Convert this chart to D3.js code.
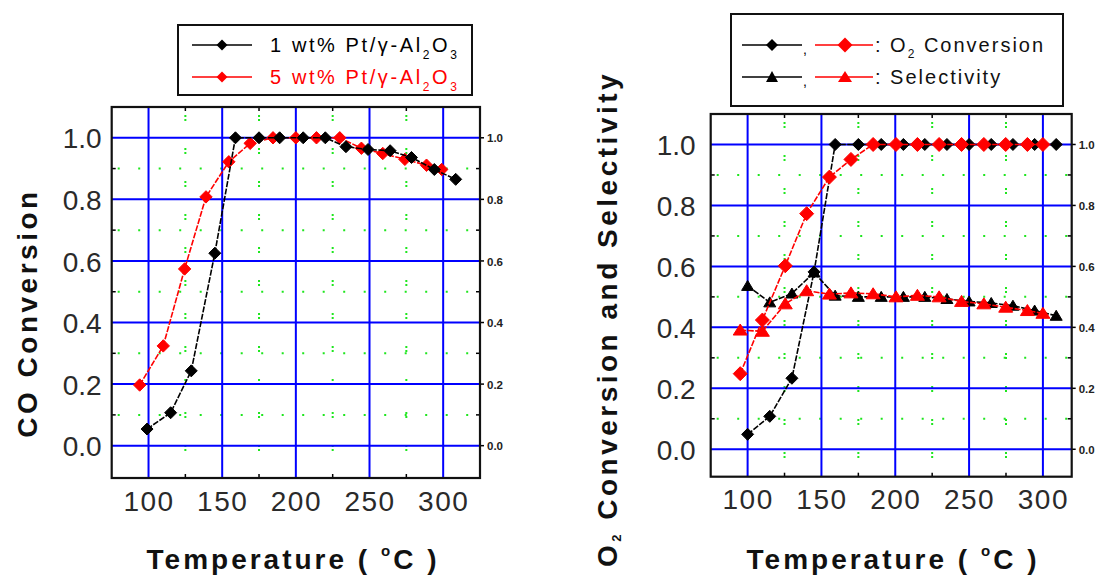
<!DOCTYPE html>
<html><head><meta charset="utf-8">
<script src="https://cdn.jsdelivr.net/npm/d3@7"></script>
<style>body{margin:0;background:#fff}svg{display:block}</style>
</head><body>
<svg id="c" width="1104" height="575"></svg>
<script>
// ---------- data ----------
const xTicks = [100, 150, 200, 250, 300];
const yTicks = [0, 0.2, 0.4, 0.6, 0.8, 1.0];
const xMinor = [125, 175, 225, 275];
const yMinor = [0.1, 0.3, 0.5, 0.7, 0.9];

// left panel: CO conversion
const pt1Temp = [99, 115, 129, 145, 159, 175, 189, 205, 220, 234, 249, 264, 278.5, 294, 308.5];
const pt1CO   = [0.054, 0.107, 0.243, 0.625, 1.0, 1.0, 1.0, 1.0, 1.0, 0.971, 0.962, 0.958, 0.936, 0.897, 0.865];
const pt5Temp = [94, 110, 124.5, 139, 154.5, 169, 184.5, 200, 214, 229.8, 244.5, 259, 274, 288.7, 299];
const pt5CO   = [0.197, 0.324, 0.574, 0.808, 0.922, 0.982, 1.0, 1.0, 1.0, 1.0, 0.966, 0.949, 0.93, 0.911, 0.897];

// right panel: O2 conversion and selectivity
const blkTemp = [100, 115, 130, 145, 159.3, 175, 190.5, 205.5, 220, 235, 250, 265, 279.7, 294.4, 309];
const blkO2   = [0.049, 0.108, 0.233, 0.582, 1.0, 1.0, 1.0, 1.0, 1.0, 1.0, 1.0, 1.0, 1.0, 1.0, 1.0];
const blkSel  = [0.536, 0.482, 0.511, 0.58, 0.504, 0.50, 0.50, 0.50, 0.50, 0.493, 0.485, 0.48, 0.471, 0.455, 0.438];
const redTemp = [95, 110, 125.5, 140, 155.4, 170, 185, 200.5, 215, 229.7, 244.9, 260, 274.8, 289.5, 300];
const redO2   = [0.248, 0.424, 0.602, 0.773, 0.893, 0.951, 1.0, 1.0, 1.0, 1.0, 1.0, 1.0, 1.0, 1.0, 1.0];
const redSel  = [0.391, 0.387, 0.477, 0.52, 0.509, 0.513, 0.51, 0.50, 0.505, 0.50, 0.485, 0.477, 0.466, 0.455, 0.446];

// ---------- drawing ----------
const svg = d3.select("#c");
const FONT = "'Liberation Sans', Arial, sans-serif";

const diamond = r => `M0,${-r}L${r},0L0,${r}L${-r},0Z`;
const triangle = (w, h) => `M0,${-h*0.55}L${w/2},${h*0.45}L${-w/2},${h*0.45}Z`;

function panel(cfg) {
  const x = d3.scaleLinear().domain(cfg.xDom).range([cfg.x0, cfg.x1]);
  const y = d3.scaleLinear().domain(cfg.yDom).range([cfg.y1, cfg.y0]);
  const g = svg.append("g");

  // green dotted minor grid
  g.selectAll(".mh").data(yMinor).join("line")
    .attr("x1", cfg.x0 + 6).attr("x2", cfg.x1).attr("y1", d => y(d)).attr("y2", d => y(d))
    .attr("stroke", "#1ee61e").attr("stroke-width", 2).attr("stroke-dasharray", "2,18.5");
  g.selectAll(".mv").data(xMinor).join("line")
    .attr("y1", cfg.y0 + 8).attr("y2", cfg.y1).attr("x1", d => x(d)).attr("x2", d => x(d))
    .attr("stroke", "#1ee61e").attr("stroke-width", 2).attr("stroke-dasharray", "2,2,2,27");

  // blue major grid
  g.selectAll(".gh").data(yTicks).join("line")
    .attr("x1", cfg.x0).attr("x2", cfg.x1).attr("y1", d => y(d)).attr("y2", d => y(d))
    .attr("stroke", "#0000ff").attr("stroke-width", 2);
  g.selectAll(".gv").data(xTicks).join("line")
    .attr("y1", cfg.y0).attr("y2", cfg.y1).attr("x1", d => x(d)).attr("x2", d => x(d))
    .attr("stroke", "#0000ff").attr("stroke-width", 2);

  // inner minor ticks
  yMinor.forEach(v => {
    g.append("line").attr("x1", cfg.x0).attr("x2", cfg.x0 + 4).attr("y1", y(v)).attr("y2", y(v)).attr("stroke", "#000").attr("stroke-width", 1.5);
    g.append("line").attr("x1", cfg.x1).attr("x2", cfg.x1 - 4).attr("y1", y(v)).attr("y2", y(v)).attr("stroke", "#000").attr("stroke-width", 1.5);
  });
  xMinor.forEach(v => {
    g.append("line").attr("y1", cfg.y1).attr("y2", cfg.y1 - 4).attr("x1", x(v)).attr("x2", x(v)).attr("stroke", "#000").attr("stroke-width", 1.5);
    g.append("line").attr("y1", cfg.y0).attr("y2", cfg.y0 + 4).attr("x1", x(v)).attr("x2", x(v)).attr("stroke", "#000").attr("stroke-width", 1.5);
  });
  yTicks.forEach(v => {
    g.append("line").attr("x1", cfg.x1).attr("x2", cfg.x1 + 4).attr("y1", y(v)).attr("y2", y(v)).attr("stroke", "#000").attr("stroke-width", 1.5);
  });

  // frame
  g.append("rect").attr("x", cfg.x0).attr("y", cfg.y0)
    .attr("width", cfg.x1 - cfg.x0).attr("height", cfg.y1 - cfg.y0)
    .attr("fill", "none").attr("stroke", "#111").attr("stroke-width", 2.2);

  // axes (labels)
  const ax = g.append("g").attr("transform", `translate(${cfg.x0 - cfg.yPad},0)`)
    .call(d3.axisLeft(y).tickValues(yTicks).tickFormat(d3.format(".1f")).tickSize(0).tickPadding(0));
  const bx = g.append("g").attr("transform", `translate(0,${cfg.y1 + 6})`)
    .call(d3.axisBottom(x).tickValues(xTicks).tickFormat(d3.format("d")).tickSize(0).tickPadding(0));
  const rx = g.append("g").attr("transform", `translate(${cfg.x1 + 7},0)`)
    .call(d3.axisRight(y).tickValues(yTicks).tickFormat(d3.format(".1f")).tickSize(0).tickPadding(0));
  [ax, bx, rx].forEach(a => a.select(".domain").remove());
  ax.selectAll("text").attr("font-family", FONT).attr("font-size", 28).attr("fill", "#2a2a2a").attr("dy", "0.36em");
  bx.selectAll("text").attr("font-family", FONT).attr("font-size", 28).attr("fill", "#2a2a2a")
    .attr("letter-spacing", 1.5).attr("dy", "0.95em");
  rx.selectAll("text").attr("font-family", FONT).attr("font-size", 11.5).attr("font-weight", "bold")
    .attr("fill", "#222").attr("dy", "0.36em");

  // x title
  const xt = g.append("text").attr("x", cfg.xtX).attr("y", 569).attr("text-anchor", "middle")
    .attr("font-family", FONT).attr("font-weight", "bold").attr("font-size", 28)
    .attr("letter-spacing", 3).attr("fill", "#111");
  xt.append("tspan").text("Temperature  ( ");
  xt.append("tspan").text("o").attr("font-size", 15).attr("dy", -13);
  xt.append("tspan").text("C )").attr("dy", 13);

  cfg.x = x; cfg.y = y; cfg.g = g;
  return cfg;
}

function series(p, xs, ys, color, shape) {
  const pts = xs.map((t, i) => [p.x(t), p.y(ys[i])]);
  p.g.append("path").attr("d", d3.line()(pts)).attr("fill", "none")
    .attr("stroke", color).attr("stroke-width", 1.6).attr("stroke-dasharray", "6,1.5");
  p.g.selectAll(null).data(pts).join("path")
    .attr("transform", d => `translate(${d[0]},${d[1]})`)
    .attr("d", shape).attr("fill", color).attr("stroke", color).attr("stroke-width", 1)
    .attr("stroke-linejoin", "round");
}

// ---------- left panel ----------
const L = panel({x0: 111.7, x1: 480, y0: 107, y1: 478, xDom: [75, 325], yDom: [-0.105, 1.1], yPad: 10, xtX: 293});
series(L, pt5Temp, pt5CO, "#ff0000", diamond(6.2));
series(L, pt1Temp, pt1CO, "#000000", diamond(6));

svg.append("text").attr("transform", "translate(37,313) rotate(-90)").attr("text-anchor", "middle")
  .attr("font-family", FONT).attr("font-weight", "bold").attr("font-size", 28).attr("letter-spacing", 3.5)
  .attr("fill", "#111").text("CO Conversion");

// left legend
const lg = svg.append("g");
lg.append("rect").attr("x", 178).attr("y", 25).attr("width", 294).attr("height", 70)
  .attr("fill", "#fff").attr("stroke", "#111").attr("stroke-width", 2);
const legL = [
  {c: "#000", y: 45, label: "1 wt%"},
  {c: "#ff0000", y: 77, label: "5 wt%"}
];
legL.forEach(e => {
  lg.append("line").attr("x1", 192).attr("x2", 252).attr("y1", e.y).attr("y2", e.y).attr("stroke", e.c).attr("stroke-width", 1.6);
  lg.append("path").attr("transform", `translate(222,${e.y})`).attr("d", diamond(5.5)).attr("fill", e.c);
  const t = lg.append("text").attr("x", 270).attr("y", e.y + 7).attr("font-family", FONT)
    .attr("font-size", 20).attr("letter-spacing", 2.6).attr("fill", e.c);
  t.append("tspan").text(e.label + "  Pt/γ-Al");
  t.append("tspan").text("2").attr("font-size", 12).attr("dy", 7);
  t.append("tspan").text("O").attr("dy", -7);
  t.append("tspan").text("3").attr("font-size", 12).attr("dy", 7);
});

// ---------- right panel ----------
const R = panel({x0: 710.7, x1: 1071.7, y0: 114, y1: 476.7, xDom: [75, 319.5], yDom: [-0.09, 1.1], yPad: 15, xtX: 893});
series(R, blkTemp, blkO2, "#000000", diamond(6));
series(R, blkTemp, blkSel, "#000000", triangle(12, 10));
series(R, redTemp, redO2, "#ff0000", diamond(7));
series(R, redTemp, redSel, "#ff0000", triangle(14, 11));

const ryt = svg.append("text").attr("transform", "translate(617,319) rotate(-90)").attr("text-anchor", "middle")
  .attr("font-family", FONT).attr("font-weight", "bold").attr("font-size", 28).attr("letter-spacing", 3.5)
  .attr("fill", "#111");
ryt.append("tspan").text("O");
ryt.append("tspan").text("2").attr("font-size", 13).attr("dy", 4);
ryt.append("tspan").text("  Conversion  and  Selectivity").attr("dy", -4);

// right legend
const rg = svg.append("g");
rg.append("rect").attr("x", 731).attr("y", 14).attr("width", 332).attr("height", 92)
  .attr("fill", "#fff").attr("stroke", "#111").attr("stroke-width", 2);
const legR = [
  {y: 45, shape: "d", label: "O"},
  {y: 77, shape: "t", label: "Selectivity"}
];
legR.forEach(e => {
  [["#000", 742, 802, 772], ["#ff0000", 815, 873, 845]].forEach(([c, a, b, m]) => {
    rg.append("line").attr("x1", a).attr("x2", b).attr("y1", e.y).attr("y2", e.y).attr("stroke", c).attr("stroke-width", 1.6);
    rg.append("path").attr("transform", `translate(${m},${e.y})`)
      .attr("d", e.shape === "d" ? diamond(c === "#000" ? 6 : 7.5) : triangle(c === "#000" ? 12 : 14, 11)).attr("fill", c);
  });
  rg.append("text").attr("x", 803).attr("y", e.y + 9).attr("font-family", FONT).attr("font-size", 14).attr("fill", "#000").text(",");
  const t = rg.append("text").attr("x", 875).attr("y", e.y + 7).attr("font-family", FONT)
    .attr("font-size", 20).attr("letter-spacing", 2).attr("fill", "#111");
  if (e.label === "O") {
    t.append("tspan").text(": O");
    t.append("tspan").text("2").attr("font-size", 12).attr("dy", 6);
    t.append("tspan").text("  Conversion").attr("dy", -6);
  } else {
    t.text(": Selectivity");
  }
});
</script>
</body></html>
